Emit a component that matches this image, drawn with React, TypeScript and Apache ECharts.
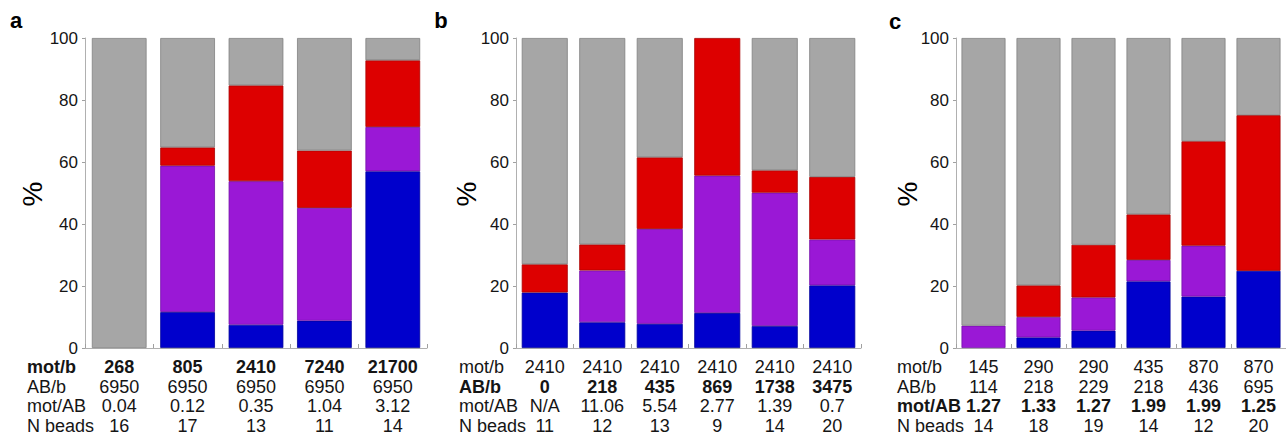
import React, { useEffect, useRef } from "react";
import * as echarts from "echarts";

// ---- Panel a ----
const aMotB = ["268", "805", "2410", "7240", "21700"];
const aABb = ["6950", "6950", "6950", "6950", "6950"];
const aMotAB = ["0.04", "0.12", "0.35", "1.04", "3.12"];
const aNBeads = ["16", "17", "13", "11", "14"];
const aBlue = [0, 11.6, 7.5, 8.8, 57.0];
const aPurple = [0, 47.2, 46.3, 36.4, 14.3];
const aRed = [0, 5.9, 30.9, 18.5, 21.5];
const aGray = [100, 35.3, 15.3, 36.3, 7.2];

// ---- Panel b ----
const bMotB = ["2410", "2410", "2410", "2410", "2410", "2410"];
const bABb = ["0", "218", "435", "869", "1738", "3475"];
const bMotAB = ["N/A", "11.06", "5.54", "2.77", "1.39", "0.7"];
const bNBeads = ["11", "12", "13", "9", "14", "20"];
const bBlue = [17.9, 8.3, 7.8, 11.3, 7.1, 20.2];
const bPurple = [0, 16.7, 30.6, 44.3, 43.0, 14.8];
const bRed = [9.1, 8.4, 23.1, 44.4, 7.2, 20.2];
const bGray = [73.0, 66.6, 38.5, 0, 42.7, 44.8];

// ---- Panel c ----
const cMotB = ["145", "290", "290", "435", "870", "870"];
const cABb = ["114", "218", "229", "218", "436", "695"];
const cMotAB = ["1.27", "1.33", "1.27", "1.99", "1.99", "1.25"];
const cNBeads = ["14", "18", "19", "14", "12", "20"];
const cBlue = [0, 3.4, 5.6, 21.5, 16.6, 24.9];
const cPurple = [7.2, 6.6, 10.7, 6.9, 16.4, 0];
const cRed = [0, 10.2, 17.0, 14.7, 33.7, 50.2];
const cGray = [92.8, 79.8, 66.7, 56.9, 33.3, 24.9];

const rowLabels = ["mot/b", "AB/b", "mot/AB", "N beads"];
const yTicks = [0, 20, 40, 60, 80, 100];
const panelLetters = ["a", "b", "c"];

const FONT = "'Liberation Sans', Arial, Helvetica, sans-serif";
const TXT = "#151515";
const COLORS = {
  blue: "#0000cc",
  purple: "#9a18d6",
  red: "#dd0000",
  gray: "#a6a6a6",
};
const BORDERS = {
  blue: "#00009a",
  purple: "#7410a8",
  red: "#a80000",
  gray: "#808080",
};

const panels = [
  {
    rows: [aMotB, aABb, aMotAB, aNBeads],
    bold: 0,
    series: { blue: aBlue, purple: aPurple, red: aRed, gray: aGray },
    grid: { left: 85, width: 342 },
    rowLabelX: 27,
    pctX: 32,
    letter: { x: 16, y: 20 },
  },
  {
    rows: [bMotB, bABb, bMotAB, bNBeads],
    bold: 1,
    series: { blue: bBlue, purple: bPurple, red: bRed, gray: bGray },
    grid: { left: 516, width: 345 },
    rowLabelX: 459,
    pctX: 466,
    letter: { x: 441, y: 20 },
  },
  {
    rows: [cMotB, cABb, cMotAB, cNBeads],
    bold: 2,
    series: { blue: cBlue, purple: cPurple, red: cRed, gray: cGray },
    grid: { left: 956, width: 330 },
    rowLabelX: 897,
    pctX: 907,
    letter: { x: 895, y: 21 },
  },
];

const GRID_TOP = 38;
const GRID_H = 310;
const ROW_Y0 = 367;
const ROW_H = 19.7;

export default function App() {
  const ref = useRef<HTMLDivElement>(null);

  useEffect(() => {
    if (!ref.current) return;
    const chart = echarts.init(ref.current, null, { renderer: "svg" });

    const grids: any[] = [];
    const xAxes: any[] = [];
    const yAxes: any[] = [];
    const series: any[] = [];
    const graphics: any[] = [];

    panels.forEach((p, pi) => {
      grids.push({ left: p.grid.left, width: p.grid.width, top: GRID_TOP, height: GRID_H });
      xAxes.push({
        type: "category",
        gridIndex: pi,
        data: p.rows[0].map((_, i) => String(i)),
        axisLine: { show: true, lineStyle: { color: "#b0b0b0", width: 1 } },
        axisTick: { show: true, inside: true, length: 4, alignWithLabel: false, lineStyle: { color: "#a0a0a0" } },
        axisLabel: {
          interval: 0,
          margin: 9,
          formatter: (_v: string, i: number) =>
            p.rows.map((r, ri) => `{${ri === p.bold ? "b" : "n"}|${r[i]}}`).join("\n"),
          rich: {
            n: { fontFamily: FONT, fontSize: 18, color: TXT, lineHeight: ROW_H, align: "center" },
            b: { fontFamily: FONT, fontSize: 18, fontWeight: "bold", color: TXT, lineHeight: ROW_H, align: "center" },
          },
        },
        splitLine: { show: false },
      });
      yAxes.push({
        type: "value",
        gridIndex: pi,
        min: yTicks[0],
        max: yTicks[yTicks.length - 1],
        interval: 20,
        axisLine: { show: true, lineStyle: { color: "#b0b0b0", width: 1 } },
        axisTick: { show: true, length: 3, lineStyle: { color: "#a0a0a0" } },
        axisLabel: { fontFamily: FONT, fontSize: 17, color: TXT, margin: 7 },
        splitLine: { show: false },
      });
      (["blue", "purple", "red", "gray"] as const).forEach((k) => {
        series.push({
          type: "bar",
          name: `${panelLetters[pi]}-${k}`,
          stack: `stack-${pi}`,
          xAxisIndex: pi,
          yAxisIndex: pi,
          barCategoryGap: "20%",
          data: p.series[k].map((v) => (v === 0 ? "-" : v)),
          itemStyle: { color: COLORS[k], borderColor: BORDERS[k], borderWidth: 0.8 },
          emphasis: { disabled: true },
        });
      });
      rowLabels.forEach((lbl, ri) => {
        graphics.push({
          type: "text",
          x: p.rowLabelX,
          y: ROW_Y0 + ri * ROW_H,
          style: {
            text: lbl,
            fontFamily: FONT,
            fontSize: 18,
            fontWeight: ri === p.bold ? "bold" : "normal",
            fill: TXT,
            align: "left",
            verticalAlign: "middle",
          },
        });
      });
      graphics.push({
        type: "text",
        x: p.pctX,
        y: GRID_TOP + GRID_H / 2 + 1,
        rotation: Math.PI / 2,
        style: {
          text: "%",
          fontFamily: FONT,
          fontSize: 28,
          fill: "#000",
          align: "center",
          verticalAlign: "middle",
        },
      });
      graphics.push({
        type: "text",
        x: p.letter.x,
        y: p.letter.y,
        style: {
          text: panelLetters[pi],
          fontFamily: FONT,
          fontSize: 22,
          fontWeight: "bold",
          fill: "#000",
          align: "center",
          verticalAlign: "middle",
        },
      });
    });

    chart.setOption({
      animation: false,
      backgroundColor: "#ffffff",
      grid: grids,
      xAxis: xAxes,
      yAxis: yAxes,
      series,
      graphic: graphics,
    });

    return () => chart.dispose();
  }, []);

  return (
    <div
      ref={ref}
      style={{ position: "absolute", left: 0, top: 0, width: 1286, height: 440 }}
    />
  );
}
